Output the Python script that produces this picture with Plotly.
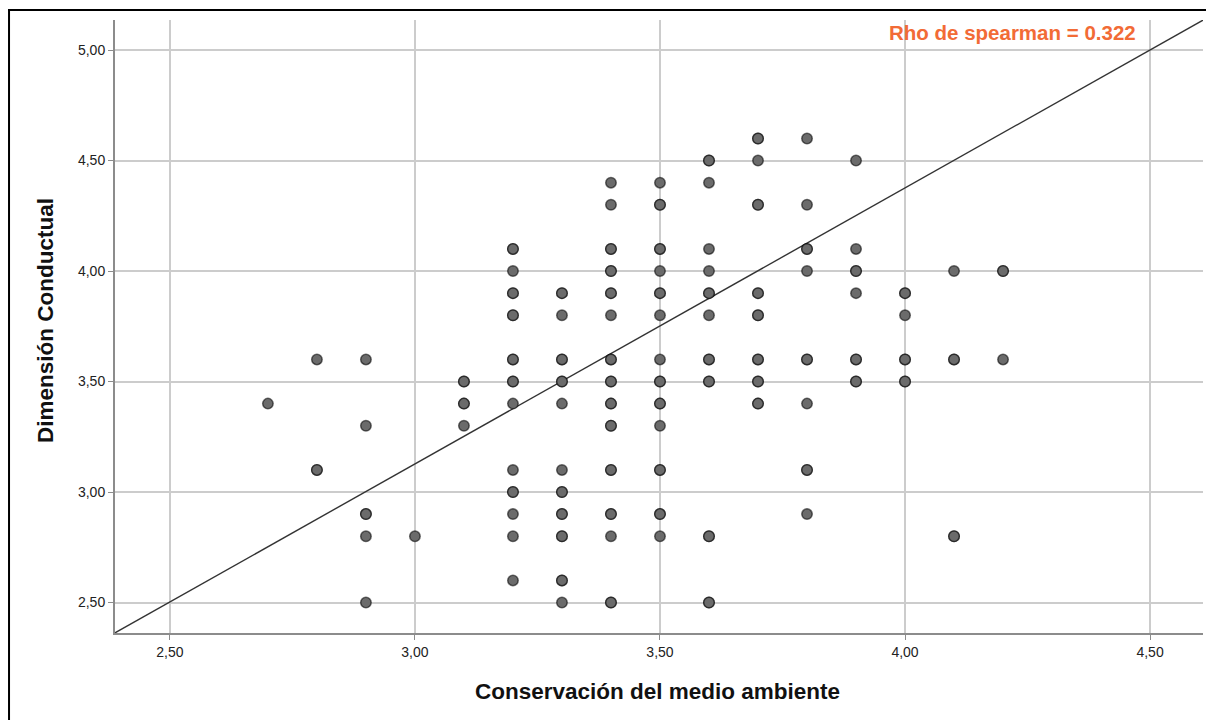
import plotly.graph_objects as go

# ---- data ----
cols_x = [2.7, 2.8, 2.9, 3.0, 3.1, 3.2, 3.3, 3.4, 3.5, 3.6, 3.7, 3.8, 3.9, 4.0, 4.1, 4.2]
cols_y = [
    [3.4],
    [3.6, 3.1, 3.1],
    [3.6, 3.3, 2.9, 2.9, 2.8, 2.5],
    [2.8],
    [3.5, 3.5, 3.4, 3.4, 3.3],
    [4.1, 4.1, 4.0, 3.9, 3.9, 3.8, 3.8, 3.6, 3.6, 3.5, 3.5, 3.4, 3.1, 3.0, 3.0, 2.9, 2.8, 2.6],
    [3.9, 3.9, 3.8, 3.6, 3.6, 3.5, 3.5, 3.4, 3.1, 3.0, 3.0, 2.9, 2.9, 2.8, 2.8, 2.6, 2.6, 2.5],
    [4.4, 4.3, 4.1, 4.1, 4.0, 4.0, 3.9, 3.9, 3.8, 3.6, 3.6, 3.5, 3.5, 3.4, 3.4, 3.3, 3.3,
     3.1, 3.1, 2.9, 2.9, 2.8, 2.5, 2.5],
    [4.4, 4.3, 4.3, 4.1, 4.1, 4.0, 3.9, 3.9, 3.8, 3.6, 3.5, 3.5, 3.4, 3.4, 3.3, 3.1, 3.1,
     2.9, 2.9, 2.8],
    [4.5, 4.5, 4.4, 4.1, 4.0, 3.9, 3.9, 3.8, 3.6, 3.6, 3.5, 3.5, 2.8, 2.8, 2.5, 2.5],
    [4.6, 4.6, 4.5, 4.3, 4.3, 3.9, 3.9, 3.8, 3.8, 3.6, 3.6, 3.5, 3.5, 3.4, 3.4],
    [4.6, 4.3, 4.1, 4.1, 4.0, 3.6, 3.6, 3.4, 3.1, 3.1, 2.9],
    [4.5, 4.1, 4.0, 4.0, 3.9, 3.6, 3.6, 3.5, 3.5],
    [3.9, 3.9, 3.8, 3.6, 3.6, 3.5, 3.5],
    [4.0, 3.6, 3.6, 2.8, 2.8],
    [4.0, 4.0, 3.6],
]
x_tick_vals = [2.5, 3.0, 3.5, 4.0, 4.5]
y_tick_vals = [2.5, 3.0, 3.5, 4.0, 4.5, 5.0]
x_range = [2.388, 4.608]
y_range = [2.362, 5.136]
fit_intercept = -0.620
fit_slope = 1.249
x_title = "Conservación del medio ambiente"
y_title = "Dimensión Conductual"
rho_text = "Rho de spearman = 0.322"

xs, ys = [], []
for cx, cy in zip(cols_x, cols_y):
    for v in cy:
        xs.append(cx)
        ys.append(v)

fit_x = list(x_range)
fit_y = [fit_intercept + fit_slope * v for v in fit_x]

FONT = "Liberation Sans, Arial, sans-serif"

fig = go.Figure()
fig.add_trace(go.Scatter(
    x=fit_x, y=fit_y, mode="lines",
    line=dict(color="#333333", width=1.4),
    hoverinfo="skip", showlegend=False,
))
fig.add_trace(go.Scatter(
    x=xs, y=ys, mode="markers",
    marker=dict(size=10.5, color="#6b6b6b",
                line=dict(color="rgba(0,0,0,0.55)", width=1.5)),
    showlegend=False,
))

axis_common = dict(
    showgrid=True, gridcolor="#cccccc", gridwidth=1.5,
    showline=True, linecolor="#8c8c8c", linewidth=2,
    ticks="outside", ticklen=5, tickcolor="#8c8c8c", tickwidth=1,
    zeroline=False, tickformat=".2f",
    tickfont=dict(family=FONT, size=14, color="#222222"),
)

fig.update_xaxes(range=x_range, tickvals=x_tick_vals, **axis_common)
fig.update_yaxes(range=y_range, tickvals=y_tick_vals, **axis_common)

# axis titles
fig.add_annotation(
    xref="paper", yref="paper", x=0.499, y=-0.0962,
    xanchor="center", yanchor="middle", showarrow=False,
    text=f"<b>{x_title}</b>",
    font=dict(family=FONT, size=22.5, color="#111111"),
)
fig.add_annotation(
    xref="paper", yref="paper", x=-0.0634, y=0.509,
    xanchor="center", yanchor="middle", showarrow=False, textangle=-90,
    text=f"<b>{y_title}</b>",
    font=dict(family=FONT, size=22.5, color="#111111"),
)

fig.add_annotation(
    xref="paper", yref="paper", x=0.940, y=0.979,
    xanchor="right", yanchor="middle", showarrow=False,
    text=f"<b>{rho_text}</b>",
    font=dict(family=FONT, size=20.5, color="#f26b36"),
)

# outer black frame (partially visible in the crop)
fig.add_shape(type="rect", xref="paper", yref="paper",
              x0=-0.0974, x1=1.2, y0=-0.4, y1=1.0163,
              line=dict(color="black", width=2), layer="above")

fig.update_layout(
    width=1206, height=712,
    margin=dict(l=107, r=11, t=12, b=87, autoexpand=False),
    paper_bgcolor="white", plot_bgcolor="white",
    separators=",.",
    font=dict(family=FONT),
    hovermode="closest",
)

fig.write_html("out.html")
